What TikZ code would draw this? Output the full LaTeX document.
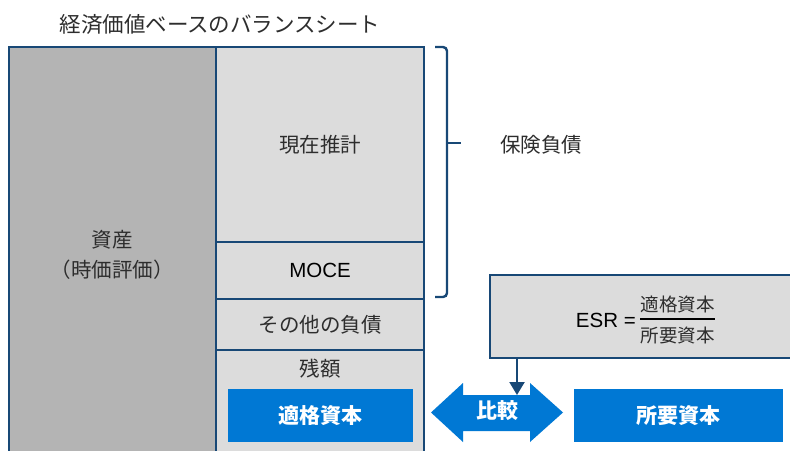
\documentclass[tikz,border=0pt]{standalone}
\usepackage{fontspec}
\usetikzlibrary{arrows.meta}
\newfontfamily\jp{Noto Sans CJK JP}
\newfontfamily\lat{Liberation Sans}
\definecolor{bdr}{RGB}{24,72,118}
\definecolor{bluebox}{RGB}{0,120,212}
\definecolor{gdark}{RGB}{180,180,180}
\definecolor{glight}{RGB}{220,220,220}
\definecolor{txt}{RGB}{45,45,45}
\tikzset{
  cell/.style={draw=bdr, line width=2.4pt, rectangle, anchor=north west, inner sep=0pt, outer sep=0pt},
  jtext/.style={font=\jp\fontsize{20.5}{30}\selectfont, text=txt, inner sep=0pt, align=center},
  ltext/.style={font=\lat\fontsize{20.5}{24}\selectfont, text=black, inner sep=0pt},
  bluecell/.style={fill=bluebox, rectangle, inner sep=0pt, text=white, font=\jp\bfseries\fontsize{21}{24}\selectfont},
  arr/.style={draw=bdr, line width=2.2pt, -{Triangle[width=15pt,length=13pt]}},
}
\begin{document}
\begin{tikzpicture}[x=1pt,y=-1pt]
\path[use as bounding box, clip] (0,0) rectangle (790,450);
\fill[white] (0,0) rectangle (790,450);
% title
\node[jtext, font=\jp\fontsize{21.5}{24}\selectfont] (title) at (220,24) {経済価値ベースのバランスシート};
% left column
\node[cell, fill=gdark, minimum width=207pt, minimum height=416pt] (asset) at (9,47) {};
\node[jtext] (assetlbl) at (112,255) {資産\\（時価評価）};
% right column cells
\node[cell, fill=glight, minimum width=208pt, minimum height=195pt] (pv) at (216,47) {};
\node[jtext] (pvlbl) at (pv.center) {現在推計};
\node[cell, fill=glight, minimum width=208pt, minimum height=57pt] (moce) at (216,242) {};
\node[ltext] (mocelbl) at (moce.center) {MOCE};
\node[cell, fill=glight, minimum width=208pt, minimum height=51pt] (other) at (216,299) {};
\node[jtext] (otherlbl) at (other.center) {その他の負債};
\node[cell, fill=glight, minimum width=208pt, minimum height=113pt] (resid) at (216,350) {};
\node[jtext] (residlbl) at (320,369) {残額};
\node[bluecell, minimum width=185pt, minimum height=53pt] (elig) at (320.5,415.5) {適格資本};
% brace
\draw[bdr, line width=2.4pt, rounded corners=4pt] (435,47) -- (447,47) -- (447,297) -- (435,297);
\coordinate (bracetip) at (461,143);
\draw[bdr, line width=2.4pt] (447,143) -- (bracetip);
\node[jtext] (ins) at (541,145) {保険負債};
% ESR box
\node[cell, fill=glight, minimum width=330pt, minimum height=83pt] (esr) at (490,275) {};
\node[ltext, anchor=east] (esrlbl) at (636,320) {ESR =};
\node[jtext, font=\jp\fontsize{18.5}{20}\selectfont] (esrnum) at (677.5,304) {適格資本};
\node[jtext, font=\jp\fontsize{18.5}{20}\selectfont] (esrden) at (677.5,335) {所要資本};
\draw[line width=1.6pt] (640,319) -- (715,319);
% double arrow
\fill[bluebox] (431,412.5) -- (463,383) -- (463,395) -- (530,395) -- (530,383) -- (563,412.5)
  -- (530,442) -- (530,431) -- (463,431) -- (463,442) -- cycle;
\node[bluecell, fill=none] (cmp) at (497,411) {比較};
\coordinate (cmptop) at (517,395);
\draw[arr] (esr.south -| cmptop) -- (cmptop);
% required capital
\node[bluecell, minimum width=209pt, minimum height=53pt] (req) at (678.5,415.5) {所要資本};
\end{tikzpicture}
\end{document}
